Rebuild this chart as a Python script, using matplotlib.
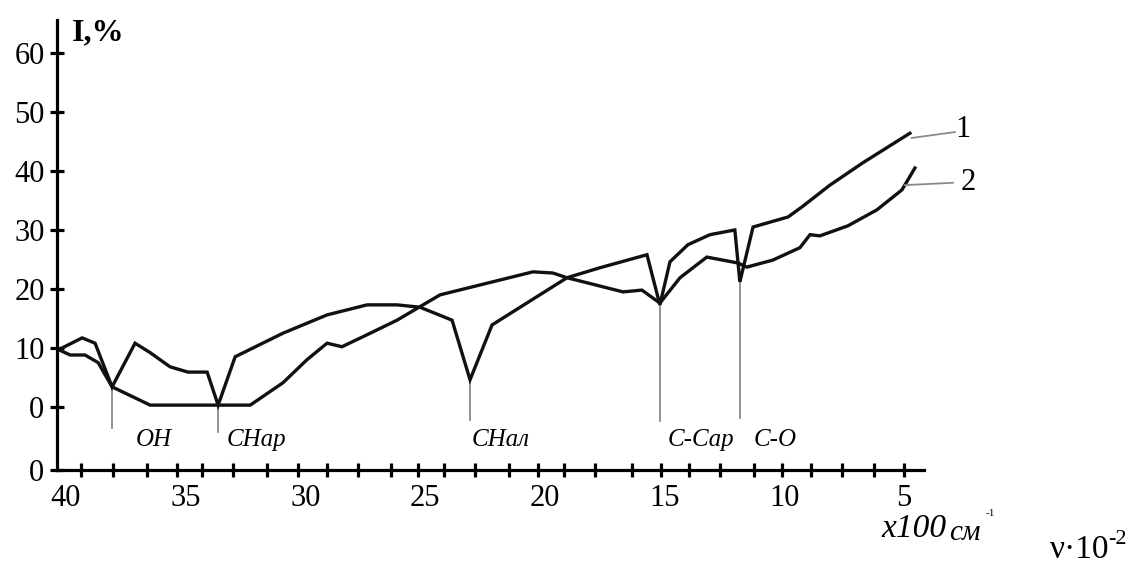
import matplotlib
matplotlib.use("Agg")
import matplotlib.pyplot as plt

# IR spectra (x in 100 cm^-1, y in %)
x1 = [40.3, 39.32, 38.78, 38.07, 37.11, 36.48, 35.65, 34.9, 34.1, 33.64, 32.93, 30.93,
      29.09, 27.42, 26.17, 25.21, 23.87, 23.12, 22.2, 19.07, 17.69, 15.73, 15.19, 14.77,
      14.02, 13.1, 12.06, 11.85, 11.3, 9.84, 9.26, 8.09, 6.71, 4.75]
y1 = [9.7, 11.7, 10.8, 3.4, 10.8, 9.2, 6.8, 5.9, 5.9, 0.3, 8.5, 12.5,
      15.6, 17.3, 17.3, 16.9, 14.7, 4.6, 13.9, 21.9, 23.6, 25.8, 17.3, 24.6,
      27.5, 29.2, 30.0, 21.2, 30.5, 32.2, 33.9, 37.6, 41.4, 46.4]

x2 = [40.3, 39.82, 39.2, 38.65, 38.07, 36.48, 32.3, 30.93, 29.93, 29.09, 28.47, 27.59,
      26.17, 24.37, 20.49, 19.66, 19.07, 16.73, 15.94, 15.19, 14.35, 13.23, 11.93, 11.56,
      10.47, 9.34, 8.92, 8.51, 7.34, 6.13, 5.08, 4.54]
y2 = [9.7, 8.8, 8.8, 7.5, 3.4, 0.3, 0.3, 4.1, 8.0, 10.8, 10.2, 11.9,
      14.7, 19.0, 22.9, 22.7, 21.9, 19.5, 19.8, 17.6, 21.9, 25.4, 24.4, 23.7,
      24.9, 27.0, 29.2, 29.0, 30.7, 33.4, 36.8, 40.5]

# absorption bands: name, position, depth of the dip
band_names = ["OH", "CHар", "CHал", "C-Cар", "C-O"]
band_pos = [38.07, 33.64, 23.12, 15.19, 11.85]
band_top = [3.4, 0.3, 4.6, 17.3, 21.2]
band_bottom = [-3.6, -4.2, -2.2, -2.4, -1.9]
band_text_x = [37.1, 33.3, 23.05, 14.85, 11.26]

xticks_major = [40, 35, 30, 25, 20, 15, 10, 5]
xticks_minor = [39.35, 38.05, 36.62, 35.35, 34.31, 33.03, 31.6, 30.3, 29.1, 27.8, 26.4,
                25.3, 24.2, 22.9, 21.5, 20.3, 19.2, 17.9, 16.36, 15.16, 13.98, 12.69,
                11.27, 10.07, 8.88, 7.6, 6.25, 4.98]
ybottom = -10.7
yticks = [ybottom, 0, 10, 20, 30, 40, 50, 60]
ytick_labels = ["0", "0", "10", "20", "30", "40", "50", "60"]

plt.rcParams["font.family"] = ["Liberation Serif", "DejaVu Serif"]

W, H = 1141, 565
fig = plt.figure(figsize=(W / 100, H / 100), dpi=100)
ax = fig.add_axes([57 / W, (H - 470) / H, (924 - 57) / W, (470 - 20) / H])

ax.plot(x1, y1, color="#111111", lw=2.4, solid_joinstyle="miter")
ax.plot(x2, y2, color="#111111", lw=2.4, solid_joinstyle="miter")

for name, xp, top, bot, tx in zip(band_names, band_pos, band_top, band_bottom, band_text_x):
    ax.plot([xp, xp], [bot, top], color="#8a8a8a", lw=1.3, zorder=1)
    ax.text(tx, -5.6, name, fontsize=18, style="italic", ha="left", va="center")

# curve labels with leader lines
ax.plot([4.67, 2.87], [45.6, 46.6], color="#8a8a8a", lw=1.3, clip_on=False)
ax.plot([4.96, 2.95], [37.6, 38.0], color="#8a8a8a", lw=1.3, clip_on=False)
ax.text(2.55, 47.0, "1", fontsize=22, ha="center", va="center")
ax.text(2.3, 38.0, "2", fontsize=22, ha="center", va="center")

ax.set_xlim(40.37, 4.16)
ax.set_ylim(ybottom, 65.6)

for s in ["top", "right"]:
    ax.spines[s].set_visible(False)
for s in ["left", "bottom"]:
    ax.spines[s].set_linewidth(2.3)

ax.set_xticks(xticks_major)
ax.set_xticks(xticks_minor, minor=True)
ax.tick_params(axis="x", which="major", length=0, pad=10, labelsize=22)
ax.tick_params(axis="x", which="minor", direction="inout", length=10, width=2.3)
ax.set_yticks(yticks)
ax.set_yticklabels(ytick_labels)
ax.tick_params(axis="y", direction="inout", length=10, width=2.3, pad=4, labelsize=22)

fig.text(72 / W, 1 - 33 / H, "I,%", fontsize=23, fontweight="bold", ha="left", va="center")
fig.text(881 / W, 1 - 537 / H, "x100", fontsize=24, style="italic", ha="left", va="baseline")
fig.text(949 / W, 1 - 540 / H, "см", fontsize=21, style="italic", ha="left", va="baseline")
fig.text(986 / W, 1 - 514 / H, "-1", fontsize=8, ha="left", va="center")
fig.text(1050 / W, 1 - 558 / H, "ν·10", fontsize=24, ha="left", va="baseline")
fig.text(1108 / W, 1 - 544 / H, "-2", fontsize=16, ha="left", va="baseline")

fig.savefig("out.png", dpi=100)
